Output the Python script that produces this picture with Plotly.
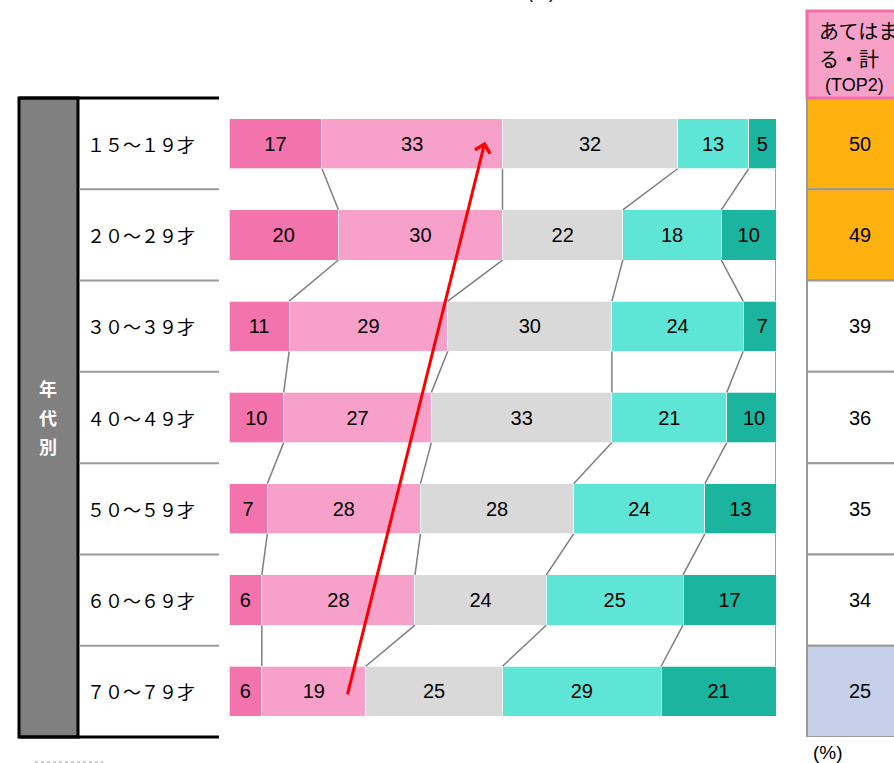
import plotly.graph_objects as go

# Age groups (rows, top to bottom)
age_groups = ["１５～１９才", "２０～２９才", "３０～３９才", "４０～４９才",
              "５０～５９才", "６０～６９才", "７０～７９才"]

# Response shares (%) per age group
answer_names = ["あてはまる", "ややあてはまる", "どちらともいえない",
                "あまりあてはまらない", "あてはまらない"]
s_agree = [17, 20, 11, 10, 7, 6, 6]
s_some_agree = [33, 30, 29, 27, 28, 28, 19]
s_neutral = [32, 22, 30, 33, 28, 24, 25]
s_some_disagree = [13, 18, 24, 21, 24, 25, 29]
s_disagree = [5, 10, 7, 10, 13, 17, 21]

# "Agree" total (TOP2) per age group
top2 = [50, 49, 39, 36, 35, 34, 25]

series = [s_agree, s_some_agree, s_neutral, s_some_disagree, s_disagree]
colors = ["#F373AC", "#F6A0CA", "#D9D9D9", "#5FE5D5", "#1BB49F"]

NUM_FONT = "Liberation Sans, Arial, sans-serif"
JP_FONT = "Noto Sans CJK JP"

W, H = 894, 763
def px(x):
    return x / W
def py(y):
    return 1 - y / H

n = len(age_groups)
rows = list(range(n))
bar_w = 0.55

fig = go.Figure()

for name, vals, col in zip(answer_names, series, colors):
    fig.add_trace(go.Bar(
        y=rows, x=vals, name=name, orientation="h", width=bar_w,
        marker=dict(color=col, line=dict(color="rgba(255,255,255,0.7)", width=1)),
        text=vals, texttemplate="%{text}", textposition="inside",
        insidetextanchor="middle", textangle=0,
        textfont=dict(family=NUM_FONT, size=20, color="black"),
        hoverinfo="skip", showlegend=False,
    ))

# Connector lines between segment boundaries of neighbouring bars
cums = []
for i in rows:
    c, acc = [], 0
    for s in series:
        acc += s[i]
        c.append(min(acc, 100))
    cums.append(c)

half = bar_w / 2
for i in rows[:-1]:
    for k in range(len(series)):
        fig.add_trace(go.Scatter(
            x=[cums[i][k], cums[i + 1][k]], y=[i + half, i + 1 - half],
            mode="lines", line=dict(color="#7F7F7F", width=1.5),
            hoverinfo="skip", showlegend=False,
        ))

fig.update_layout(
    width=W, height=H, autosize=False,
    margin=dict(l=0, r=0, t=0, b=0),
    paper_bgcolor="white", plot_bgcolor="white",
    barmode="stack",
    uniformtext=dict(minsize=20, mode="show"),
    xaxis=dict(domain=[px(229), px(776)], range=[0, 100], visible=False, fixedrange=True),
    yaxis=dict(domain=[py(737), py(98)], range=[n - 0.5, -0.5], visible=False, fixedrange=True),
)

shapes = []
annotations = []

def label(x, y, text, font, size, color="black", xref="paper", yref="paper",
          xanchor="center", yanchor="middle"):
    annotations.append(dict(xref=xref, yref=yref, x=x, y=y, text=text,
                            xanchor=xanchor, yanchor=yanchor, showarrow=False,
                            font=dict(family=font, size=size, color=color)))

GRID = dict(color="#9A9A9A", width=2)

# Left table: grey heading column and age-label column
shapes.append(dict(type="rect", xref="paper", yref="paper",
                   x0=px(19), x1=px(78), y0=py(737), y1=py(98),
                   fillcolor="#808080", line=dict(color="black", width=3), layer="below"))
for yy in (98, 737):
    shapes.append(dict(type="line", xref="paper", yref="paper",
                       x0=px(19), x1=px(219), y0=py(yy), y1=py(yy),
                       line=dict(color="black", width=3)))
for i in rows[:-1]:
    shapes.append(dict(type="line", xref="paper", yref="y",
                       x0=px(79), x1=px(219), y0=i + 0.5, y1=i + 0.5, line=GRID))

for j, ch in enumerate("年代別"):
    label(px(48), py(388 + 29 * j), "<b>%s</b>" % ch, JP_FONT, 18, color="white")

for i, lab in zip(rows, age_groups):
    label(px(85), i, lab, JP_FONT, 18, yref="y", xanchor="left")

# Right column: TOP2 totals
cell_x0, cell_x1 = px(807), px(915)
shapes.append(dict(type="rect", xref="paper", yref="paper",
                   x0=px(807), x1=px(930), y0=py(98), y1=py(11),
                   fillcolor="#F7A1C9", line=dict(color="#F06FAA", width=3)))
label(px(817), py(31), "あてはま", JP_FONT, 20, xanchor="left")
label(px(817), py(59), "る・計", JP_FONT, 20, xanchor="left")
label(px(823), py(85), "(TOP2)", NUM_FONT, 18, xanchor="left")

top_colors = []
for v in top2:
    if v >= 45:
        top_colors.append("#FFB20F")
    elif v <= 30:
        top_colors.append("#C6D0E9")
    else:
        top_colors.append("white")

for i, v, c in zip(rows, top2, top_colors):
    shapes.append(dict(type="rect", xref="paper", yref="y",
                       x0=cell_x0, x1=cell_x1, y0=i - 0.5, y1=i + 0.5,
                       fillcolor=c, line=GRID, layer="below"))
    label(px(860), i, str(v), NUM_FONT, 20, yref="y")

label(px(811), py(752), "(%)", NUM_FONT, 19, xanchor="left")
label(px(541), py(-8), "(%)", NUM_FONT, 18)

shapes.append(dict(type="line", xref="paper", yref="paper",
                   x0=px(35), x1=px(103), y0=py(762), y1=py(762),
                   line=dict(color="#9A9A9A", width=1, dash="dot")))

# Trend arrow from the oldest group towards the youngest
annotations.append(dict(xref="x", yref="y", axref="x", ayref="y",
                        x=46.8, y=-0.02, ax=21.6, ay=6.05,
                        text="", showarrow=True, arrowhead=4, arrowsize=1,
                        arrowwidth=3, arrowcolor="#FF0000"))

fig.update_layout(shapes=shapes, annotations=annotations)

fig.write_html("out.html")
